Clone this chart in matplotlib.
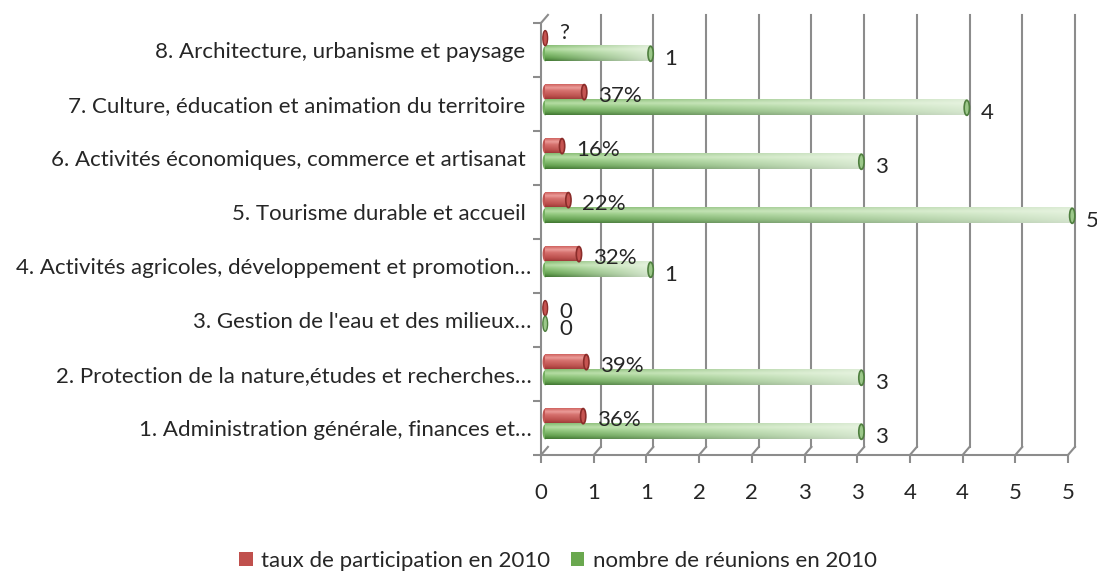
import numpy as np
import matplotlib.pyplot as plt
from matplotlib.patches import Ellipse, Patch
from matplotlib.colors import to_rgb

plt.rcParams['font.family'] = ['Lato', 'DejaVu Sans']

categories = [
    "1. Administration générale, finances et…",
    "2. Protection de la nature,études et recherches…",
    "3. Gestion de l'eau et des milieux…",
    "4. Activités agricoles, développement et promotion…",
    "5. Tourisme durable et accueil ",
    "6. Activités économiques, commerce et artisanat ",
    "7. Culture, éducation et animation du territoire ",
    "8. Architecture, urbanisme et paysage ",
]
participation = [0.36, 0.39, 0.0, 0.32, 0.22, 0.16, 0.37, 0.0]
participation_labels = ["36%", "39%", "0", "32%", "22%", "16%", "37%", "?"]
meetings = [3, 3, 0, 1, 5, 3, 4, 1]
meeting_labels = ["3", "3", "0", "1", "5", "3", "4", "1"]
x_ticks = [0, 0.5, 1, 1.5, 2, 2.5, 3, 3.5, 4, 4.5, 5]
x_tick_labels = ["0", "1", "1", "2", "2", "3", "3", "4", "4", "5", "5"]

GRID = '#8c8c8c'
TXT = '#262626'
FS = 16
DX, DY = 0.066, 0.15      # depth offset of the back wall
X0 = 0.04                 # bars sit half way in depth
HALF = 0.14               # half thickness of a cylinder
CAP = 0.05                # width of the end ellipse


def profile(stops, n=40):
    t = np.linspace(0, 1, n)
    pos = [s[0] for s in stops]
    cols = np.array([to_rgb(s[1]) for s in stops])
    return np.stack([np.interp(t, pos, cols[:, k]) for k in range(3)], axis=1)


green_v = profile([(0, '#3f7530'), (0.2, '#62a04e'), (0.55, '#92c87e'),
                   (0.75, '#b4dca2'), (1, '#84bb70')])
red_v = profile([(0, '#93302e'), (0.25, '#bb4d4a'), (0.6, '#d66f6c'),
                 (0.78, '#eb9a97'), (1, '#cf605d')])


def cylinder(ax, x0, length, yc, vcols, fade, cap_face, edge):
    if length > 0:
        nx = 60
        f = np.linspace(0, fade, nx)[None, :, None]
        img = vcols[:, None, :] * (1 - f) + np.array(to_rgb('#f2f8ee'))[None, None, :] * f
        ax.add_patch(Ellipse((x0, yc), CAP, 2 * HALF, facecolor=vcols[len(vcols) // 3],
                             edgecolor='none', zorder=3))
        im = ax.imshow(img, origin='lower', aspect='auto', interpolation='bilinear',
                       extent=[x0, x0 + length, yc - HALF, yc + HALF], zorder=4)
        im.set_clip_on(False)
        ax.add_patch(Ellipse((x0 + length, yc), CAP, 2 * HALF, facecolor=cap_face,
                             edgecolor=edge, lw=1.2, zorder=5, clip_on=False))
    else:
        ax.add_patch(Ellipse((x0, yc), CAP * 0.9, 2 * HALF, facecolor=cap_face,
                             edgecolor=edge, lw=1.0, zorder=5))


fig = plt.figure(figsize=(10.97, 5.72), dpi=100)
ax = fig.add_axes([541 / 1097, 117 / 572, 527 / 1097, 432 / 572])
n = len(categories)

# back wall and floor
for v in x_ticks:
    ax.plot([v, v + DX], [0, DY], color=GRID, lw=1.5, zorder=1, clip_on=False)
    if v > 0:
        ax.plot([v + DX, v + DX], [DY, n + DY], color=GRID, lw=1.5, zorder=1, clip_on=False)
ax.plot([0, DX], [n, n + DY], color=GRID, lw=1.5, zorder=1, clip_on=False)

for i in range(n):
    yr = i + 0.72
    yg = i + 0.43
    cylinder(ax, X0, participation[i], yr, red_v, 0.05, '#c65451', '#8a2c2a')
    cylinder(ax, X0, meetings[i], yg, green_v, 0.8, '#9cc88a', '#4f7f3f')
    lab = participation_labels[i]
    ry = yr - 0.07 if lab != "?" else yr + 0.1
    ax.text(X0 + participation[i] + 0.13, ry, lab,
            ha='left', va='center', fontsize=FS, color=TXT, zorder=6,
            bbox=dict(facecolor='white', edgecolor='none', pad=1) if lab == "?" else None)
    ax.text(X0 + meetings[i] + 0.13, yg - 0.1, meeting_labels[i],
            ha='left', va='center', fontsize=FS, color=TXT, zorder=6, clip_on=False)

ax.set_xlim(0, 5)
ax.set_ylim(0, n)
ax.set_xticks(x_ticks)
ax.set_xticklabels(x_tick_labels)
ax.set_yticks(np.arange(n) + 0.5)
ax.set_yticklabels(categories)
ax.set_yticks(np.arange(n + 1), minor=True)
ax.tick_params(axis='x', length=6, width=1.5, color=GRID, pad=14, labelsize=FS, labelcolor=TXT)
ax.tick_params(axis='y', which='major', length=0, pad=7, labelsize=FS, labelcolor=TXT)
ax.tick_params(axis='y', which='minor', length=6, width=1.5, color=GRID)
for s in ['top', 'right']:
    ax.spines[s].set_visible(False)
for s in ['left', 'bottom']:
    ax.spines[s].set_color(GRID)
    ax.spines[s].set_linewidth(1.5)
ax.set_facecolor('none')

handles = [Patch(facecolor='#c0504d', edgecolor='none'),
           Patch(facecolor='#6aa84f', edgecolor='none')]
fig.legend(handles, ['taux de participation en 2010', 'nombre de réunions en 2010'],
           loc='center', bbox_to_anchor=(558 / 1097, 1 - 561 / 572), ncol=2, frameon=False,
           fontsize=FS, handlelength=0.6, handleheight=0.6, handletextpad=0.4,
           columnspacing=0.9, labelcolor=TXT)

fig.savefig('out.png', dpi=100)
